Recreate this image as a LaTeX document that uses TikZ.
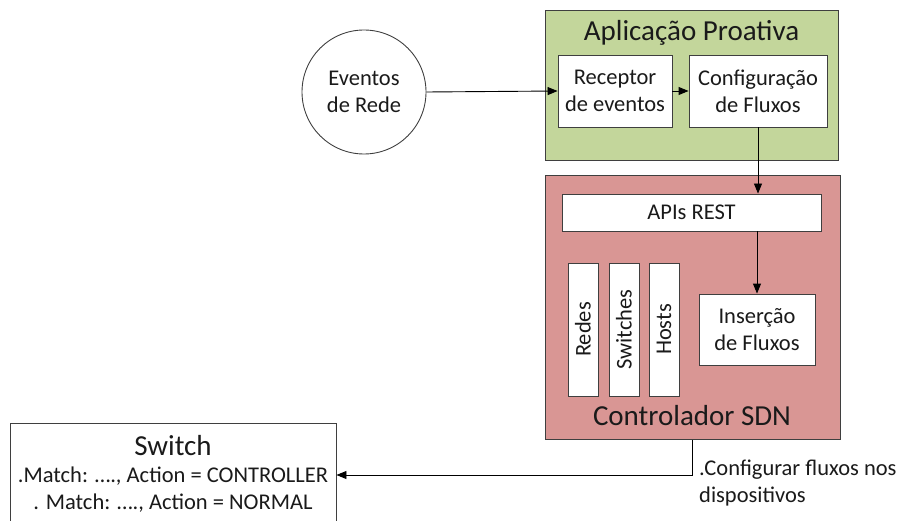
\documentclass[tikz,border=0pt]{standalone}
\usepackage{fontspec}
\setmainfont{Carlito}
\usetikzlibrary{arrows.meta}
\definecolor{appgreen}{HTML}{C3D69B}
\definecolor{ctrlred}{HTML}{D99694}
\definecolor{edge}{HTML}{3F3F3F}
\definecolor{ink}{HTML}{1A1A1A}
\tikzset{
  box/.style={draw=edge, line width=0.9pt, fill=white, inner sep=0pt, align=center,
              text=ink, font=\fontsize{22.5}{27}\selectfont},
  panel/.style={draw=edge, line width=0.9pt, inner sep=0pt},
  title/.style={text=ink, font=\fontsize{29}{34}\selectfont, inner sep=0pt},
  bar/.style={box, rotate=90, minimum width=133pt, minimum height=30pt},
  link/.style={draw=black, line width=0.9pt, -{Triangle[length=10pt,width=8pt]}},
  plain/.style={text=ink, font=\fontsize{22.5}{27}\selectfont, inner sep=0pt, align=left}
}
\begin{document}
\begin{tikzpicture}[x=1pt, y=-1pt]
\useasboundingbox (0,0) rectangle (901,521);
\clip (0,0) rectangle (901,521);

% proactive application panel
\node[panel, fill=appgreen, minimum width=293pt, minimum height=150pt] (app) at (691.5,85) {};
\node[title] (apptitle) at (691.5,33) {Aplicação Proativa};
\node[box, minimum width=114pt, minimum height=72pt] (rec) at (615,91) {Receptor\\de eventos};
\node[box, minimum width=138pt, minimum height=72pt] (cfg) at (758,91) {Configuração\\de Fluxos};

% network events source
\node[draw=edge, line width=0.9pt, circle, minimum size=124pt, inner sep=0pt, align=center,
      text=ink, font=\fontsize{22.5}{27}\selectfont] (evt) at (364,92) {Eventos\\de Rede};

% SDN controller panel
\node[panel, fill=ctrlred, minimum width=295pt, minimum height=264pt] (ctrl) at (692.5,307.5) {};
\node[box, minimum width=259pt, minimum height=37pt] (api) at (691.5,212.5) {APIs REST};
\node[bar] (redes) at (583,329.5) {Redes};
\node[bar] (sws) at (624,329.5) {Switches};
\node[bar] (hosts) at (664,329.5) {Hosts};
\node[box, minimum width=116pt, minimum height=71pt] (ins) at (757,329.5) {Inserção\\de Fluxos};
\node[title] (ctrltitle) at (692,416) {Controlador SDN};

% switch flow table
\node[draw=edge, line width=0.9pt, fill=white, minimum width=326pt, minimum height=120pt,
      inner sep=0pt] (sw) at (173,483) {};
\node[title] (swtitle) at (173,446) {Switch};
\node[plain] (rule1) at (173,476) {.Match: …., Action = CONTROLLER};
\node[plain] (rule2) at (173,503) {. Match: …., Action = NORMAL};

% connectors
\draw[link] (evt.east) -- (rec.west);
\draw[link] (rec.east) -- (cfg.west);
\draw[link] (cfg.south) -- (cfg.south |- api.north);
\draw[link] (api.south -| ins.north) -- (ins.north);
\coordinate (bend) at (ctrl.south |- 0,475);
\draw[link] (ctrl.south) -- (bend) -- (bend -| sw.east);
\node[plain, anchor=north west] (cfglabel) at (699,460) {.Configurar fluxos nos\\dispositivos};
\end{tikzpicture}
\end{document}
